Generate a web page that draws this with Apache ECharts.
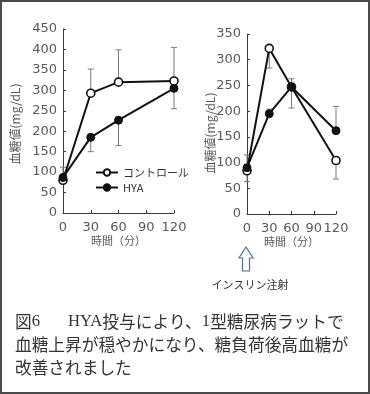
<!DOCTYPE html>
<html><head><meta charset="utf-8">
<script src="https://cdn.jsdelivr.net/npm/echarts@6/dist/echarts.min.js"></script>
<style>html,body{margin:0;padding:0;background:#fff}#c{width:370px;height:394px}</style>
</head><body><div id="c"></div>
<script>
const times = [0, 30, 60, 120];
const xTicks = [0, 30, 60, 90, 120];
// Left chart (glucose load)
const ctrlA = [80, 293, 320, 323];
const ctrlAErr = [32, 59, 79, 82];   // upward
const hyaA = [87, 185, 227, 305];
const hyaAErr = [0, 35, 62, 50];     // downward
// Right chart (insulin injection)
const ctrlB = [84, 322, 247, 104];
const ctrlBErr = [21, 38, 41, 36];   // downward
const hyaB = [90, 195, 247, 162];
const hyaBErr = [25, 9, 16, 47];     // upward

const seriesNames = ['コントロール', 'HYA'];
const yName = '血糖値(mg/dL)';
const xName = '時間（分）';

const chart = echarts.init(document.getElementById('c'), null, {renderer: 'canvas'});
const FONT = '"Noto Sans CJK JP", "DejaVu Sans", sans-serif';
const NUMFONT = '"DejaVu Sans", sans-serif';
const AX = '#3a3a3a', LBL = '#595959';

function pairs(ys) { return times.map((t, i) => [t, ys[i]]); }
function errData(ys, errs, dir) { return times.map((t, i) => [t, ys[i], errs[i], dir]); }

function errSeries(ys, errs, dir, gi) {
  return {
    type: 'custom', xAxisIndex: gi, yAxisIndex: gi, z: 1, silent: true,
    data: errData(ys, errs, dir),
    renderItem: function (params, api) {
      const x = api.value(0), y = api.value(1), e = api.value(2), d = api.value(3);
      if (!e) return null;
      const p0 = api.coord([x, y]);
      const p1 = api.coord([x, y + d * e]);
      const st = {stroke: '#7a7a7a', lineWidth: 1};
      return {type: 'group', children: [
        {type: 'line', shape: {x1: p0[0], y1: p0[1], x2: p1[0], y2: p1[1]}, style: st},
        {type: 'line', shape: {x1: p1[0] - 3, y1: p1[1], x2: p1[0] + 3, y2: p1[1]}, style: st}
      ]};
    }
  };
}

function xAxisCfg(gi) {
  return {
    gridIndex: gi, type: 'value', min: 0, max: 120, interval: 30,
    axisLine: {lineStyle: {color: AX, width: 1}},
    axisTick: {inside: true, length: 3, lineStyle: {color: AX}},
    axisLabel: {margin: 8, color: LBL, fontSize: 13, fontFamily: NUMFONT,
      formatter: v => xTicks.includes(v) ? String(v) : ''},
    splitLine: {show: false},
    name: xName, nameLocation: 'middle', nameGap: 20,
    nameTextStyle: {color: LBL, fontSize: 11, fontFamily: FONT}
  };
}
function yAxisCfg(gi, max) {
  return {
    gridIndex: gi, type: 'value', min: 0, max: max, interval: 50,
    axisLine: {show: true, lineStyle: {color: AX, width: 1}},
    axisTick: {show: true, inside: true, length: 3, lineStyle: {color: AX}},
    axisLabel: {margin: 6, color: LBL, fontSize: 13, fontFamily: NUMFONT},
    splitLine: {show: false}
  };
}

function lineSeries(name, ys, gi, open) {
  return {
    name: name, type: 'line', xAxisIndex: gi, yAxisIndex: gi, z: 3,
    data: pairs(ys),
    symbol: 'circle', symbolSize: 8,
    lineStyle: {color: '#111', width: 2},
    itemStyle: open ? {color: '#fff', borderColor: '#111', borderWidth: 1.6}
                    : {color: '#111', borderColor: '#111', borderWidth: 1},
    emphasis: {disabled: true}
  };
}

const option = {
  animation: false,
  backgroundColor: '#fff',
  grid: [
    {left: 63, top: 29, width: 111, height: 184},
    {left: 247, top: 34, width: 89, height: 180}
  ],
  xAxis: [xAxisCfg(0), xAxisCfg(1)],
  yAxis: [yAxisCfg(0, 450), yAxisCfg(1, 350)],
  legend: {
    data: seriesNames, orient: 'vertical', left: 95, top: 167,
    itemWidth: 22, itemHeight: 8, itemGap: 4, padding: 0,
    textStyle: {color: '#333', fontSize: 11, fontFamily: FONT},
    selectedMode: false
  },
  series: [
    errSeries(ctrlA, ctrlAErr, 1, 0),
    errSeries(hyaA, hyaAErr, -1, 0),
    errSeries(ctrlB, ctrlBErr, -1, 1),
    errSeries(hyaB, hyaBErr, 1, 1),
    lineSeries(seriesNames[0], ctrlA, 0, true),
    lineSeries(seriesNames[1], hyaA, 0, false),
    lineSeries(seriesNames[0], ctrlB, 1, true),
    lineSeries(seriesNames[1], hyaB, 1, false)
  ],
  graphic: [
    {type: 'rect', shape: {x: 1, y: 1, width: 368, height: 392},
     style: {fill: 'none', stroke: '#4a4a4a', lineWidth: 2}, silent: true},
    {type: 'text', x: 15, y: 124, rotation: Math.PI / 2,
     style: {text: yName, fill: LBL, fontSize: 12, fontFamily: FONT, textAlign: 'center', textVerticalAlign: 'middle'}},
    {type: 'text', x: 210, y: 133, rotation: Math.PI / 2,
     style: {text: yName, fill: LBL, fontSize: 12, fontFamily: FONT, textAlign: 'center', textVerticalAlign: 'middle'}},
    {type: 'polygon', shape: {points: [[246, 247], [253, 258], [249.5, 258], [249.5, 271], [242.5, 271], [242.5, 258], [239, 258]]},
     style: {fill: '#fff', stroke: '#4f6f93', lineWidth: 1.2}},
    {type: 'text', x: 250, y: 285,
     style: {text: 'インスリン注射', fill: '#333', fontSize: 11, fontFamily: FONT, textAlign: 'center', textVerticalAlign: 'middle'}},
    {type: 'text', x: 15, y: 322,
     style: {text: '図{s|6}{g| }{s|HYA}投与により、{s|1}型糖尿病ラットで', fill: '#333', fontSize: 16.7, fontFamily: FONT,
       textVerticalAlign: 'middle',
       rich: {s: {fontFamily: '"Liberation Serif", serif', fontSize: 16.7, fill: '#333'}, g: {width: 28}}}},
    {type: 'text', x: 15, y: 345,
     style: {text: '血糖上昇が穏やかになり、糖負荷後高血糖が', fill: '#333', fontSize: 16.7, fontFamily: FONT, textVerticalAlign: 'middle'}},
    {type: 'text', x: 15, y: 368,
     style: {text: '改善されました', fill: '#333', fontSize: 16.7, fontFamily: FONT, textVerticalAlign: 'middle'}}
  ]
};
chart.setOption(option);
</script>
</body></html>
